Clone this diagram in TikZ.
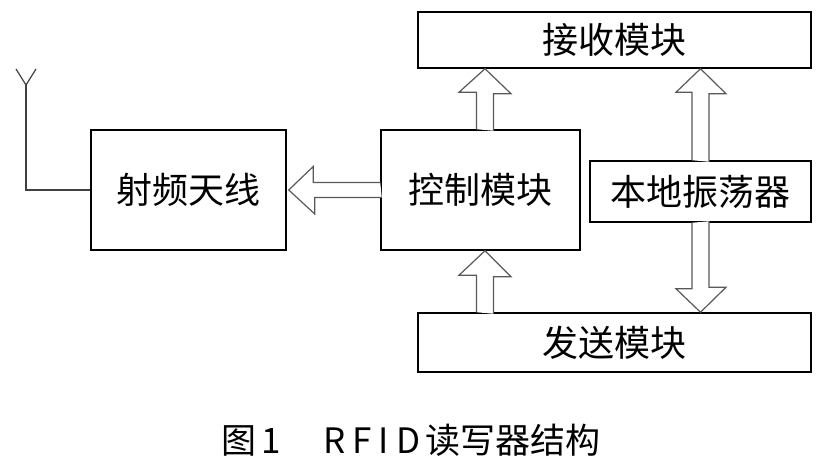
\documentclass[tikz,border=0pt]{standalone}
\usepackage{fontspec}
\newfontfamily\cjk{Noto Sans CJK SC}
\usetikzlibrary{calc}

\begin{document}
\begin{tikzpicture}[x=0.5pt,y=-0.5pt,
module/.style={
rectangle,
draw,
line width=0.75pt,
inner sep=0pt,
font=\cjk\fontsize{18pt}{20pt}\selectfont
},
hollow/.style={
draw=black!65,
line width=0.6pt,
line join=miter,
fill=white
}]
\useasboundingbox (0,0) rectangle (825,464);
\node (recv) [module,minimum width=196.5pt,minimum height=28pt] at (614.5,40) {接收模块};
\node (ant) [module,minimum width=97.5pt,minimum height=60pt] at (188.5,190) {射频天线};
\node (ctrl) [module,minimum width=99.5pt,minimum height=60pt] at (480.5,190) {控制模块};
\node (osc) [module,minimum width=110.5pt,minimum height=30.5pt] at (700.5,191.5) {本地振荡器};
\node (send) [module,minimum width=196.5pt,minimum height=29.5pt] at (614.5,342.5) {发送模块};
% antenna
\coordinate (feed) at (26,85);
\draw[black!75,line width=0.6pt] (ant.west) -| (feed);
\draw[black!75,line width=0.6pt] (16,69) -- (feed) -- (36,69);
% block arrows
\draw[hollow] ($(ctrl.west)+(0,-7.5)$) -- ++(-67,0) -- ++(0,-16) -- ($(ant.east)+(2,0)$) -- ++(26,24) -- ++(0,-16.5) -- ++(67,0);
\draw[hollow] ($(ctrl.north)+(-4,0)$) -- ++(0,-37) -- ++(-17.5,0) -- ($(ctrl.north |- recv.south)+(4.5,0)$) -- ++(26,25) -- ++(-17.5,0) -- ++(0,37);
\draw[hollow] ($(osc.north)+(-8.5,0)$) -- ++(0,-68) -- ++(-16,0) -- (osc.north |- recv.south) -- ++(25.5,25) -- ++(-17,0) -- ++(0,68);
\draw[hollow] ($(osc.south)+(-8.5,0)$) -- ++(0,66) -- ++(-16,0) -- (osc.south |- send.north) -- ++(25.5,-25) -- ++(-17,0) -- ++(0,-66);
\draw[hollow] ($(ctrl.south |- send.north)+(-4,0)$) -- ++(0,-37) -- ++(-17.5,0) -- ($(ctrl.south)+(4.5,0)$) -- ++(26,26) -- ++(-17.5,0) -- ++(0,37);
% caption
\node (caption) [font=\cjk\fontsize{17.5pt}{20pt}\selectfont] at (411,440) {图\,1\hspace{1.2em}R\kern3.5pt F\kern3.5pt I\kern3.5pt D\,读写器结构};
\end{tikzpicture}
\end{document}
